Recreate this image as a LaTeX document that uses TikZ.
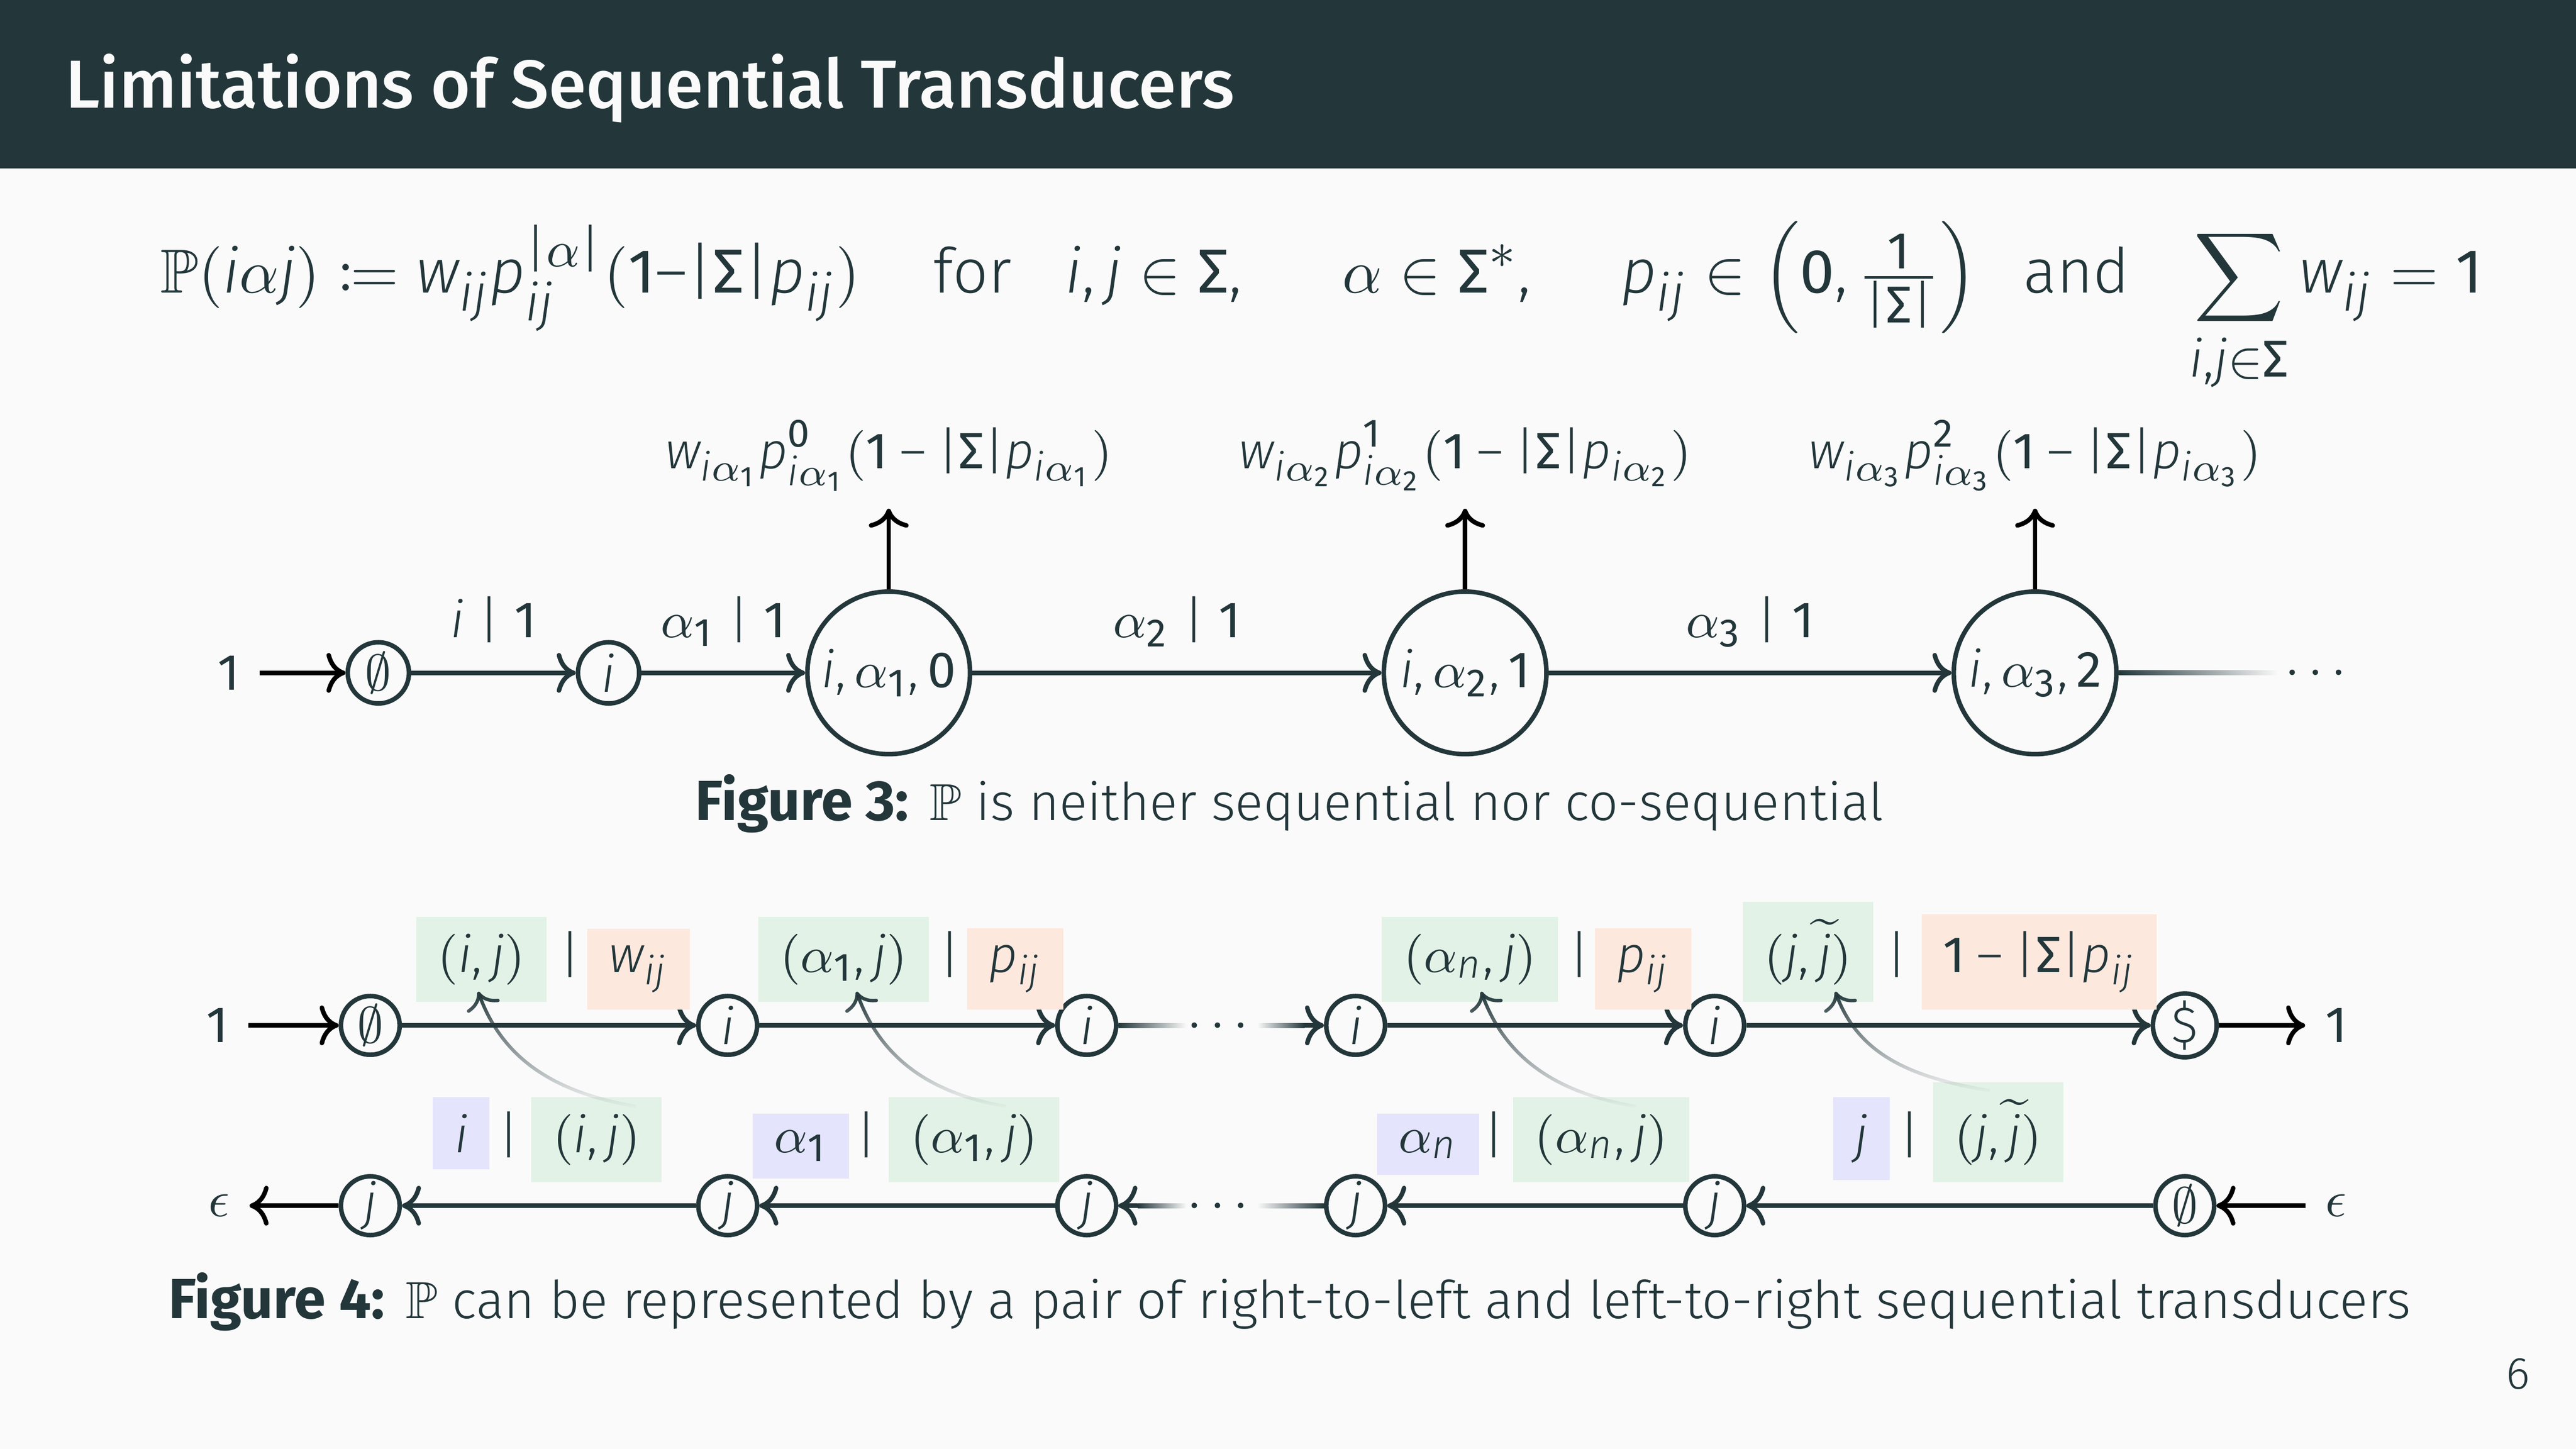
\documentclass[tikz,border=0pt]{standalone}
\usepackage{amsmath,amssymb}
\usepackage{mathtools}
\usepackage{fontspec}
\setmainfont{Fira Sans Light}[BoldFont={Fira Sans Bold}, ItalicFont={Fira Sans Light Italic}, BoldItalicFont={Fira Sans Bold Italic}]
\newfontfamily\ftitle{Fira Sans Medium}
\newfontfamily\firareg{Fira Sans}
\usepackage[italic]{mathastext}
\makeatletter
\begingroup\firareg\xdef\FiraRegFam{\f@family}\endgroup
\makeatother
\DeclareSymbolFont{firadig}{TU}{\FiraRegFam}{m}{n}
\AtBeginDocument{%
  \DeclareMathSymbol{0}{\mathalpha}{firadig}{`0}%
  \DeclareMathSymbol{1}{\mathalpha}{firadig}{`1}%
  \DeclareMathSymbol{2}{\mathalpha}{firadig}{`2}%
  \DeclareMathSymbol{3}{\mathalpha}{firadig}{`3}%
}
\usetikzlibrary{calc,fadings,arrows.meta}
\definecolor{mDarkTeal}{HTML}{23373B}
\definecolor{mBg}{HTML}{FAFAFA}
\definecolor{bxGreen}{HTML}{E2F2E6}
\definecolor{bxOrange}{HTML}{FDE8DE}
\definecolor{bxBlue}{HTML}{E4E4FC}
\tikzfading[name=fadedown, top color=transparent!0, bottom color=transparent!100]
\newcommand{\Sg}{\mathord{\text{\firareg Σ}}}
\begin{document}
\begin{tikzpicture}[x=1cm,y=1cm,
  every node/.style={text=mDarkTeal},
  fmain/.style={font=\fontsize{11}{13.2}\selectfont},
  fthree/.style={font=\fontsize{9}{10.8}\selectfont},
  ffour/.style={font=\fontsize{9}{10.8}\selectfont},
  fseg/.style={fmain, anchor=base west, inner sep=0pt},
  sst/.style={circle, draw=mDarkTeal, thick, inner sep=0.5pt, minimum size=0.38cm, fthree},
  bst/.style={circle, draw=mDarkTeal, thick, inner sep=1pt, minimum size=1.01cm, fthree},
  fst/.style={circle, draw=mDarkTeal, thick, inner sep=0.5pt, minimum size=0.365cm, ffour},
  trans/.style={->, draw=mDarkTeal, thick},
  extarr/.style={->, draw=black, thick},
  edgelbl/.style={fthree, midway, anchor=base, yshift=0.22cm},
  lblbox/.style={ffour, anchor=base, inner xsep=3.8pt, inner ysep=3pt},
  gbx/.style={lblbox, fill=bxGreen},
  obx/.style={lblbox, fill=bxOrange},
  bbx/.style={lblbox, fill=bxBlue},
  barsep/.style={ffour, anchor=base, inner sep=0pt},
  dotsn/.style={fthree, anchor=base, inner sep=0pt, yshift=-2.25pt},
  garrow/.style={->, draw=mDarkTeal, line width=0.6pt, path fading=fadedown},
  capn/.style={anchor=base, inner sep=0pt},
]
\useasboundingbox (0,0) rectangle (16,9);
\fill[mBg] (0,0) rectangle (16,9);
\fill[mDarkTeal] (0,7.953) rectangle (16,9);
\node[anchor=base west, inner sep=0pt, text=mBg, font=\ftitle\fontsize{12}{14.4}\selectfont] (title) at (0.40,8.33) {Limitations of Sequential Transducers};

% main formula
\node[fseg] (fa) at (0.99,7.18) {$\mathbb{P}(i\alpha j) \coloneqq w_{ij}p_{ij}^{\vert\alpha\vert}(1{-}\vert\Sg\vert p_{ij})$};
\node[fseg] (fb) at (5.79,7.18) {for};
\node[fseg] (fc) at (6.61,7.18) {$i,j\in\Sg,$};
\node[fseg] (fd) at (8.33,7.18) {$\alpha\in\Sg^{*},$};
\node[fseg] (fe) at (10.06,7.18) {$p_{ij}\in\left(0,\tfrac{1}{\vert\Sg\vert}\right)$};
\node[fseg] (ff) at (12.56,7.18) {and};
\node[fseg] (fg) at (13.59,7.18) {$\displaystyle\sum_{i,j\in\Sg} w_{ij}=1$};

% Figure 3
\node[fthree] (one3) at (1.42,4.82) {$1$};
\node[sst] (s0) at (2.35,4.82) {$\emptyset$};
\node[sst] (s1) at (3.78,4.82) {$i$};
\node[bst] (s2) at (5.52,4.82) {$i,\alpha_1,0$};
\node[bst] (s3) at (9.10,4.82) {$i,\alpha_2,1$};
\node[bst] (s4) at (12.64,4.82) {$i,\alpha_3,2$};
\coordinate (s4fade) at (14.15,4.82);
\node[dotsn] (s4dots) at (14.41,4.82) {$\cdots$};
\draw[extarr] (one3) -- (s0);
\draw[trans] (s0) -- node[edgelbl] {$i\mid 1$} (s1);
\draw[trans] (s1) -- node[edgelbl] {$\alpha_1\mid 1$} (s2);
\draw[trans] (s2) -- node[edgelbl] {$\alpha_2\mid 1$} (s3);
\draw[trans] (s3) -- node[edgelbl] {$\alpha_3\mid 1$} (s4);
\shade[left color=mDarkTeal, right color=mBg] ($(s4.east)+(0,-0.014)$) rectangle ($(s4fade)+(0,0.014)$);

\coordinate (u2) at (5.52,5.84);
\coordinate (u3) at (9.10,5.84);
\coordinate (u4) at (12.64,5.84);
\node[fthree, anchor=base] (w2) at (5.52,6.09) {$w_{i\alpha_1}p^{0}_{i\alpha_1}(1-\vert\Sg\vert p_{i\alpha_1})$};
\node[fthree, anchor=base] (w3) at (9.10,6.09) {$w_{i\alpha_2}p^{1}_{i\alpha_2}(1-\vert\Sg\vert p_{i\alpha_2})$};
\node[fthree, anchor=base] (w4) at (12.64,6.09) {$w_{i\alpha_3}p^{2}_{i\alpha_3}(1-\vert\Sg\vert p_{i\alpha_3})$};
\draw[extarr] (s2) -- (u2);
\draw[extarr] (s3) -- (u3);
\draw[extarr] (s4) -- (u4);

\node[capn] (cap3) at (8.01,3.905) {{\fontsize{10}{12}\selectfont\bfseries Figure 3:} {\fontsize{9.2}{11}\selectfont $\mathbb{P}$ is neither sequential nor co-sequential}};

% Figure 4 -- top row
\node[ffour] (oneL) at (1.35,2.63) {$1$};
\node[fst] (n0) at (2.30,2.63) {$\emptyset$};
\node[fst] (n1) at (4.52,2.63) {$i$};
\node[fst] (n2) at (6.75,2.63) {$i$};
\node[fst] (n3) at (8.42,2.63) {$i$};
\node[fst] (n4) at (10.65,2.63) {$i$};
\node[fst] (n5) at (13.57,2.63) {$\$$};
\node[ffour] (oneR) at (14.51,2.63) {$1$};
\coordinate (tfo) at (7.37,2.63);
\coordinate (tfi) at (7.81,2.63);
\node[dotsn] (tdots) at (7.59,2.63) {$\cdots$};
\draw[extarr] (oneL) -- (n0);
\draw[trans] (n0) -- (n1);
\draw[trans] (n1) -- (n2);
\shade[left color=mDarkTeal, right color=mBg] ($(n2.east)+(0,-0.014)$) rectangle ($(tfo)+(0,0.014)$);
\coordinate (tfa) at ($(n3.west)+(-0.12,0)$);
\shade[left color=mBg, right color=mDarkTeal] ($(tfi)+(0,-0.014)$) rectangle ($(tfa)+(0,0.014)$);
\draw[trans] (tfa) -- (n3);
\draw[trans] (n3) -- (n4);
\draw[trans] (n4) -- (n5);
\draw[extarr] (n5) -- (oneR);

% Figure 4 -- bottom row
\node[ffour] (epsL) at (1.36,1.51) {$\epsilon$};
\node[fst] (m0) at (2.30,1.51) {$j$};
\node[fst] (m1) at (4.52,1.51) {$j$};
\node[fst] (m2) at (6.75,1.51) {$j$};
\node[fst] (m3) at (8.42,1.51) {$j$};
\node[fst] (m4) at (10.65,1.51) {$j$};
\node[fst] (m5) at (13.57,1.51) {$\emptyset$};
\node[ffour] (epsR) at (14.51,1.51) {$\epsilon$};
\coordinate (bfo) at (7.81,1.51);
\coordinate (bfi) at (7.37,1.51);
\node[dotsn] (bdots) at (7.59,1.51) {$\cdots$};
\draw[extarr] (epsR) -- (m5);
\draw[trans] (m5) -- (m4);
\draw[trans] (m4) -- (m3);
\shade[left color=mBg, right color=mDarkTeal] ($(bfo)+(0,-0.014)$) rectangle ($(m3.west)+(0,0.014)$);
\coordinate (bfa) at ($(m2.east)+(0.12,0)$);
\shade[left color=mDarkTeal, right color=mBg] ($(bfa)+(0,-0.014)$) rectangle ($(bfi)+(0,0.014)$);
\draw[trans] (bfa) -- (m2);
\draw[trans] (m2) -- (m1);
\draw[trans] (m1) -- (m0);
\draw[extarr] (m0) -- (epsL);

% Figure 4 -- top labels
\node[gbx] (t1g) at (2.99,2.96) {$(i,j)$};
\node[barsep] (t1s) at (3.54,2.96) {$\vert$};
\node[obx] (t1o) at (3.965,2.96) {$w_{ij}$};
\node[gbx] (t2g) at (5.24,2.96) {$(\alpha_1,j)$};
\node[barsep] (t2s) at (5.90,2.96) {$\vert$};
\node[obx] (t2o) at (6.305,2.96) {$p_{ij}$};
\node[gbx] (t3g) at (9.13,2.96) {$(\alpha_n,j)$};
\node[barsep] (t3s) at (9.81,2.96) {$\vert$};
\node[obx] (t3o) at (10.205,2.96) {$p_{ij}$};
\node[gbx] (t4g) at (11.23,2.96) {$(j,\widetilde{j})$};
\node[barsep] (t4s) at (11.78,2.96) {$\vert$};
\node[obx] (t4o) at (12.665,2.96) {$1-\vert\Sg\vert p_{ij}$};

% Figure 4 -- bottom labels
\node[bbx] (b1l) at (2.865,1.84) {$i$};
\node[barsep] (b1s) at (3.16,1.84) {$\vert$};
\node[gbx] (b1g) at (3.705,1.84) {$(i,j)$};
\node[bbx] (b2l) at (4.975,1.84) {$\alpha_1$};
\node[barsep] (b2s) at (5.38,1.84) {$\vert$};
\node[gbx] (b2g) at (6.05,1.84) {$(\alpha_1,j)$};
\node[bbx] (b3l) at (8.87,1.84) {$\alpha_n$};
\node[barsep] (b3s) at (9.28,1.84) {$\vert$};
\node[gbx] (b3g) at (9.945,1.84) {$(\alpha_n,j)$};
\node[bbx] (b4l) at (11.56,1.84) {$j$};
\node[barsep] (b4s) at (11.86,1.84) {$\vert$};
\node[gbx] (b4g) at (12.41,1.84) {$(j,\widetilde{j})$};

% curved links
\draw[garrow] ($(b1g.north)+(0.245,-0.065)$) to[out=170,in=-70] ($(t1g.south)+(-0.02,0.07)$);
\draw[garrow] ($(b2g.north)+(0.20,-0.065)$) to[out=170,in=-70] ($(t2g.south)+(0.08,0.07)$);
\draw[garrow] ($(b3g.north)+(0.215,-0.065)$) to[out=170,in=-70] ($(t3g.south)+(0.07,0.07)$);
\draw[garrow] ($(b4g.north)+(-0.05,-0.06)$) to[out=170,in=-70] ($(t4g.south)+(0.17,0.07)$);

\node[capn] (cap4) at (8.01,0.81) {{\fontsize{10}{12}\selectfont\bfseries Figure 4:} {\fontsize{9.25}{11}\selectfont $\mathbb{P}$ can be represented by a pair of right-to-left and left-to-right sequential transducers}};
\node[anchor=base east, inner sep=0pt, font=\fontsize{8}{9.6}\selectfont] (pg) at (15.72,0.37) {6};
\end{tikzpicture}
\end{document}
